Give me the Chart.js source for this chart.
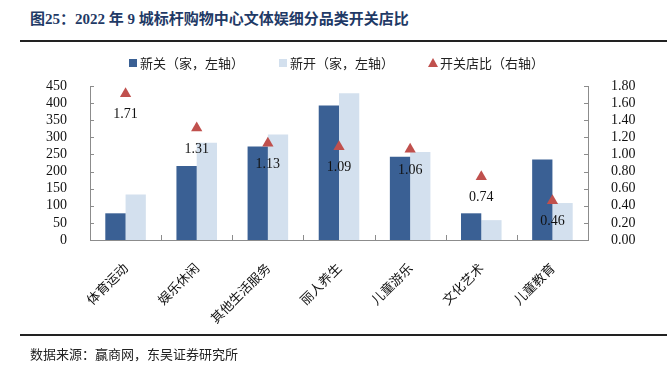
<!DOCTYPE html>
<html>
<head>
<meta charset="utf-8">
<script src="https://cdn.jsdelivr.net/npm/chart.js@4/dist/chart.umd.min.js"></script>
<style>
  html, body { margin: 0; padding: 0; background: #fff; }
  #wrap { position: relative; width: 667px; height: 378px; overflow: hidden; }
  #chart { position: absolute; left: 0; top: 0; }
  .title {
    position: absolute; left: 30px; top: 7px;
    font: bold 15px "Liberation Serif", "Noto Sans CJK SC", serif;
    color: #1f3a66; white-space: nowrap;
  }
  .rule { position: absolute; left: 20px; right: 0; height: 2px; background: #222; }
  .source {
    position: absolute; left: 30px; top: 344px;
    font: 13px "Noto Sans CJK SC", sans-serif; color: #222; white-space: nowrap;
  }
</style>
</head>
<body>
<div id="wrap">
  <div class="title">图25：2022 年 9 城标杆购物中心文体娱细分品类开关店比</div>
  <div class="rule" style="top:40px"></div>
  <canvas id="chart" width="667" height="378"></canvas>
  <div class="rule" style="top:334px"></div>
  <div class="source">数据来源：赢商网，东吴证券研究所</div>
</div>
<script>
// categories + series
const categories = ["体育运动", "娱乐休闲", "其他生活服务", "丽人养生", "儿童游乐", "文化艺术", "儿童教育"];
const closedStores = [78, 216, 273, 393, 243, 78, 235];   // 新关（家）
const openedStores = [133, 284, 308, 429, 257, 58, 108];  // 新开（家）
const openCloseRatio = [1.71, 1.31, 1.13, 1.09, 1.06, 0.74, 0.46];

const leftTicks = [0, 50, 100, 150, 200, 250, 300, 350, 400, 450];
const rightTicks = [0, 0.2, 0.4, 0.6, 0.8, 1.0, 1.2, 1.4, 1.6, 1.8];

const COLOR_CLOSED = "#3a6094";
const COLOR_OPENED = "#d3e0ee";
const COLOR_RATIO = "#c0504d";
const AXIS_COLOR = "#8c8c8c";
const NUM_FONT = { family: "Liberation Serif", size: 14 };
const CJK_FONT = "Noto Sans CJK SC";

// inward tick marks on every axis
const inwardTicks = {
    id: "inwardTicks",
    afterDraw(chart) {
        const { ctx, chartArea, scales } = chart;
        ctx.save();
        ctx.strokeStyle = AXIS_COLOR;
        ctx.lineWidth = 1;
        ctx.beginPath();
        for (const v of leftTicks) {
            const y = Math.round(scales.y.getPixelForValue(v)) + 0.5;
            ctx.moveTo(chartArea.left, y); ctx.lineTo(chartArea.left + 4, y);
        }
        for (const v of rightTicks) {
            const y = Math.round(scales.y1.getPixelForValue(v)) + 0.5;
            ctx.moveTo(chartArea.right, y); ctx.lineTo(chartArea.right - 4, y);
        }
        const step = (chartArea.right - chartArea.left) / categories.length;
        for (let i = 1; i < categories.length; i++) {
            const x = Math.round(chartArea.left + step * i) + 0.5;
            ctx.moveTo(x, chartArea.bottom); ctx.lineTo(x, chartArea.bottom - 5);
        }
        ctx.stroke();
        ctx.restore();
    }
};

// value labels under the triangles
const ratioLabels = {
    id: "ratioLabels",
    afterDatasetsDraw(chart) {
        const { ctx } = chart;
        const meta = chart.getDatasetMeta(2);
        ctx.save();
        ctx.font = "14px 'Liberation Serif'";
        ctx.fillStyle = "#111";
        ctx.textAlign = "center";
        ctx.textBaseline = "middle";
        meta.data.forEach((pt, i) => {
            ctx.fillText(openCloseRatio[i].toFixed(2), pt.x, pt.y + 21);
        });
        ctx.restore();
    }
};

// legend drawn at fixed spots like the source
const fixedLegend = {
    id: "fixedLegend",
    afterDraw(chart) {
        const { ctx } = chart;
        const items = [
            { x: 129, text: "新关（家，左轴）", color: COLOR_CLOSED, shape: "rect" },
            { x: 279, text: "新开（家，左轴）", color: COLOR_OPENED, shape: "rect" },
            { x: 429, text: "开关店比（右轴）", color: COLOR_RATIO, shape: "triangle" },
        ];
        const y = 63;
        ctx.save();
        ctx.font = "13px '" + CJK_FONT + "'";
        ctx.textBaseline = "middle";
        for (const it of items) {
            ctx.fillStyle = it.color;
            if (it.shape === "rect") {
                ctx.fillRect(it.x, y - 4, 8, 8);
            } else {
                ctx.beginPath();
                ctx.moveTo(it.x + 4, y - 5);
                ctx.lineTo(it.x + 9, y + 4);
                ctx.lineTo(it.x - 1, y + 4);
                ctx.closePath();
                ctx.fill();
            }
            ctx.fillStyle = "#222";
            ctx.fillText(it.text, it.x + 11, y);
        }
        ctx.restore();
    }
};

new Chart(document.getElementById("chart").getContext("2d"), {
    data: {
        labels: categories,
        datasets: [
            {
                type: "bar", label: "新关（家，左轴）", data: closedStores,
                backgroundColor: COLOR_CLOSED, yAxisID: "y",
                categoryPercentage: 0.57, barPercentage: 1.0, order: 2,
            },
            {
                type: "bar", label: "新开（家，左轴）", data: openedStores,
                backgroundColor: COLOR_OPENED, yAxisID: "y",
                categoryPercentage: 0.57, barPercentage: 1.0, order: 2,
            },
            {
                type: "line", label: "开关店比（右轴）", data: openCloseRatio,
                yAxisID: "y1", showLine: false,
                pointStyle: "triangle", pointRadius: 6.5, pointHoverRadius: 6.5,
                backgroundColor: COLOR_RATIO, borderColor: COLOR_RATIO, borderWidth: 0,
                order: 1,
            },
        ],
    },
    options: {
        responsive: false,
        animation: false,
        layout: { padding: { top: 86, bottom: 48, left: 0, right: 0 } },
        plugins: { legend: { display: false }, tooltip: { enabled: false } },
        scales: {
            x: {
                grid: { display: false },
                border: { display: true, color: AXIS_COLOR },
                ticks: {
                    color: "#111", font: { family: CJK_FONT, size: 13 },
                    minRotation: 45, maxRotation: 45, padding: 12, autoSkip: false,
                },
                afterFit(s) { s.height = 90; },
            },
            y: {
                position: "left", min: 0, max: 450,
                grid: { display: false },
                border: { display: true, color: AXIS_COLOR },
                ticks: {
                    color: "#111", font: NUM_FONT, padding: 15, autoSkip: false,
                    callback: (v) => v,
                },
                afterBuildTicks(s) { s.ticks = leftTicks.map(v => ({ value: v })); },
                afterFit(s) { s.width = 90; },
            },
            y1: {
                position: "right", min: 0, max: 1.8,
                grid: { display: false },
                border: { display: true, color: AXIS_COLOR },
                ticks: {
                    color: "#111", font: NUM_FONT, padding: 15, autoSkip: false,
                    callback: (v) => Number(v).toFixed(2),
                },
                afterBuildTicks(s) { s.ticks = rightTicks.map(v => ({ value: v })); },
                afterFit(s) { s.width = 79; },
            },
        },
    },
    plugins: [inwardTicks, ratioLabels, fixedLegend],
});
</script>
</body>
</html>
